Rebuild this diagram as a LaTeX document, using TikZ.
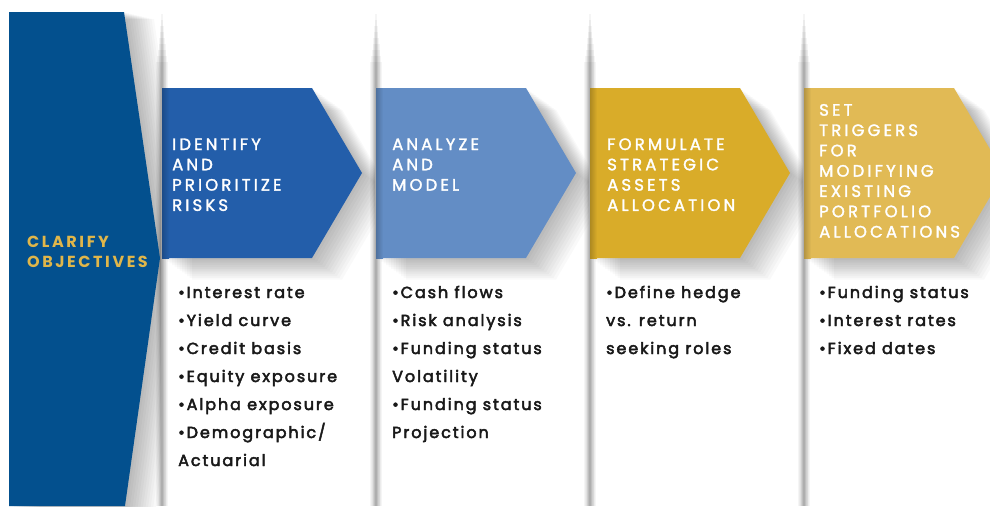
\documentclass[tikz,border=0pt]{standalone}
\usepackage{fontspec}
\newfontfamily\hfont[LetterSpace=19,FakeBold=1.8]{Poppins}
\newfontfamily\cfont[LetterSpace=16]{Poppins}
\newfontfamily\bfont[LetterSpace=12,FakeBold=3]{Poppins}
\definecolor{bigblue}{RGB}{3,80,142}
\definecolor{ablue}{RGB}{35,94,170}
\definecolor{lblue}{RGB}{99,141,197}
\definecolor{agold}{RGB}{217,172,41}
\definecolor{lgold}{RGB}{225,186,85}
\definecolor{tgold}{RGB}{224,182,74}
\definecolor{itemtext}{RGB}{25,25,25}
\tikzset{
  hdr/.style={anchor=base west, inner sep=0pt, text=white, font=\hfont\fontsize{16.5}{20}\selectfont},
  itm/.style={anchor=base west, inner sep=0pt, text=itemtext, font=\bfont\fontsize{16}{28}\selectfont},
  cla/.style={anchor=base west, inner sep=0pt, text=tgold, font=\cfont\bfseries\fontsize{16}{20}\selectfont},
  shadowlayer/.style={fill=black, opacity=0.022},
  seplayer/.style={fill=black, opacity=0.04}
}
\newcommand\arrowpath[1]{(#1,88) -- ++(150,0) -- ++(50,85) -- ++(-50,85) -- ++(-150,0) -- cycle}
\newcommand\bigpath{(9,12) -- (124,12) -- (160,258) -- (125,506) -- (9,506) -- cycle}
\begin{document}
\begin{tikzpicture}[x=1pt,y=-1pt]
\useasboundingbox (0,0) rectangle (990,506);
\fill[white] (0,0) rectangle (990,506);
% separators: soft vertical strips, fading in from the top
\foreach \b in {162,376,590,804} {
  \foreach \w/\t in {0.8/14,1.2/20,1.6/26,2.2/32,2.8/38,3.5/44,4.3/50,5.2/56,6.2/62} {
    \fill[seplayer] (\b-\w,\t) rectangle (\b+\w,506);
  }
}
% shadow of big shape
\begin{scope}
  \clip (0,0) rectangle (161,506);
  \foreach \i in {1,...,12} \fill[shadowlayer, shift={(\i*2.5,\i*0.6)}] \bigpath;
\end{scope}
% arrow shadows
\foreach \b in {162,376,590,804} {
  \begin{scope}
    \clip (\b,0) rectangle (\b+213,506);
    \foreach \i in {1,...,12} \fill[shadowlayer, shift={(\i*2.5,\i*1.8)}] \arrowpath{\b};
  \end{scope}
}
% shapes
\fill[bigblue] \bigpath;
\fill[ablue] \arrowpath{162};
\fill[lblue] \arrowpath{376};
\fill[agold] \arrowpath{590};
\fill[lgold] \arrowpath{804};
% inner edge darkening
\shade[left color=ablue!80!black, right color=ablue] (162,88) rectangle (169,258);
\shade[left color=lblue!80!black, right color=lblue] (376,88) rectangle (383,258);
\shade[left color=agold!80!black, right color=agold] (590,88) rectangle (597,258);
\shade[left color=lgold!80!black, right color=lgold] (804,88) rectangle (811,258);
% clarify objectives
\node[cla] (c1) at (27,247) {CLARIFY};
\node[cla] (c2) at (27,267) {OBJECTIVES};
% headers
\foreach \t [count=\k] in {IDENTIFY,AND,PRIORITIZE,RISKS}
  \node[hdr] (h1l\k) at (172,150+\k*20.3-20.3) {\t};
\foreach \t [count=\k] in {ANALYZE,AND,MODEL}
  \node[hdr] (h2l\k) at (392,150+\k*20.3-20.3) {\t};
\foreach \t [count=\k] in {FORMULATE,STRATEGIC,ASSETS,ALLOCATION}
  \node[hdr] (h3l\k) at (607,150+\k*20.3-20.3) {\t};
\foreach \t [count=\k] in {SET,TRIGGERS,FOR,MODIFYING,EXISTING,PORTFOLIO,ALLOCATIONS}
  \node[hdr] (h4l\k) at (819,115.7+\k*20.3-20.3) {\t};
% items
\foreach \t [count=\k] in {•Interest rate,•Yield curve,•Credit basis,•Equity exposure,•Alpha exposure,•Demographic/,Actuarial}
  \node[itm] (i1l\k) at (178,298+\k*28-28) {\t};
\foreach \t [count=\k] in {•Cash flows,•Risk analysis,•Funding status,Volatility,•Funding status,Projection}
  \node[itm] (i2l\k) at (392,298+\k*28-28) {\t};
\foreach \t [count=\k] in {•Define hedge,vs. return,seeking roles}
  \node[itm] (i3l\k) at (606,298+\k*28-28) {\t};
\foreach \t [count=\k] in {•Funding status,•Interest rates,•Fixed dates}
  \node[itm] (i4l\k) at (819,298+\k*28-28) {\t};
\end{tikzpicture}
\end{document}
